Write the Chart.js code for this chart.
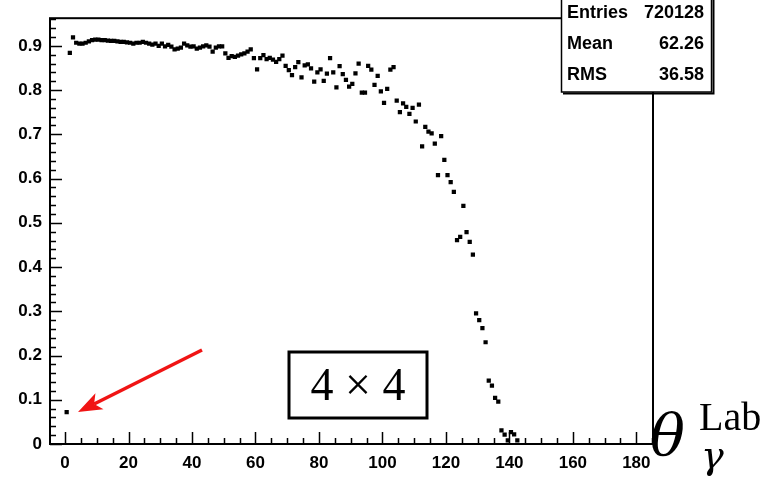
<!DOCTYPE html>
<html>
<head>
<meta charset="utf-8">
<script src="https://cdn.jsdelivr.net/npm/chart.js@4.4.1/dist/chart.umd.min.js"></script>
<style>
    html, body { margin: 0; padding: 0; background: #fff; }
</style>
</head>
<body>
<canvas id="efficacite-chart" width="775" height="482"></canvas>
<script>
"use strict";

// centres des bins en theta (degrés)
const thetaLab = [
    0.5, 1.5, 2.5, 3.5, 4.5, 5.5, 6.5, 7.5, 8.5, 9.5,
    10.5, 11.5, 12.5, 13.5, 14.5, 15.5, 16.5, 17.5, 18.5, 19.5,
    20.5, 21.5, 22.5, 23.5, 24.5, 25.5, 26.5, 27.5, 28.5, 29.5,
    30.5, 31.5, 32.5, 33.5, 34.5, 35.5, 36.5, 37.5, 38.5, 39.5,
    40.5, 41.5, 42.5, 43.5, 44.5, 45.5, 46.5, 47.5, 48.5, 49.5,
    50.5, 51.5, 52.5, 53.5, 54.5, 55.5, 56.5, 57.5, 58.5, 59.5,
    60.5, 61.5, 62.5, 63.5, 64.5, 65.5, 66.5, 67.5, 68.5, 69.5,
    70.5, 71.5, 72.5, 73.5, 74.5, 75.5, 76.5, 77.5, 78.5, 79.5,
    80.5, 81.5, 82.5, 83.5, 84.5, 85.5, 86.5, 87.5, 88.5, 89.5,
    90.5, 91.5, 92.5, 93.5, 94.5, 95.5, 96.5, 97.5, 98.5, 99.5,
    100.5, 101.5, 102.5, 103.5, 104.5, 105.5, 106.5, 107.5, 108.5, 109.5,
    110.5, 111.5, 112.5, 113.5, 114.5, 115.5, 116.5, 117.5, 118.5, 119.5,
    120.5, 121.5, 122.5, 123.5, 124.5, 125.5, 126.5, 127.5, 128.5, 129.5,
    130.5, 131.5, 132.5, 133.5, 134.5, 135.5, 136.5, 137.5, 138.5, 139.5,
    140.5, 141.5, 142.5
];

// efficacité
const efficacite = [
    0.072, 0.884, 0.919, 0.907, 0.905, 0.905, 0.907, 0.910, 0.913, 0.914,
    0.914, 0.913, 0.913, 0.912, 0.911, 0.911, 0.910, 0.909, 0.909, 0.908,
    0.907, 0.905, 0.907, 0.907, 0.909, 0.907, 0.905, 0.903, 0.905, 0.900,
    0.905, 0.899, 0.902, 0.898, 0.892, 0.894, 0.896, 0.905, 0.901, 0.898,
    0.899, 0.894, 0.896, 0.899, 0.901, 0.898, 0.887, 0.896, 0.899, 0.899,
    0.883, 0.873, 0.877, 0.875, 0.878, 0.881, 0.883, 0.887, 0.892, 0.872,
    0.847, 0.872, 0.879, 0.870, 0.873, 0.869, 0.864, 0.870, 0.878, 0.855,
    0.845, 0.834, 0.852, 0.863, 0.829, 0.856, 0.858, 0.849, 0.819, 0.840,
    0.847, 0.821, 0.837, 0.872, 0.840, 0.806, 0.854, 0.836, 0.823, 0.808,
    0.814, 0.838, 0.860, 0.794, 0.794, 0.855, 0.846, 0.812, 0.832, 0.797,
    0.771, 0.803, 0.846, 0.852, 0.776, 0.750, 0.770, 0.762, 0.746, 0.760,
    0.729, 0.767, 0.673, 0.717, 0.706, 0.702, 0.679, 0.608, 0.696, 0.642,
    0.608, 0.592, 0.570, 0.461, 0.468, 0.538, 0.479, 0.457, 0.428, 0.295,
    0.280, 0.262, 0.230, 0.143, 0.132, 0.104, 0.096, 0.031, 0.021, 0.008,
    0.027, 0.022, 0.008
];

const xTicks = [0, 20, 40, 60, 80, 100, 120, 140, 160, 180];
const yTicks = [0, 0.1, 0.2, 0.3, 0.4, 0.5, 0.6, 0.7, 0.8, 0.9];

const statsLabels = ['Entries', 'Mean', 'RMS'];
const statsValues = ['720128', '62.26', '36.58'];

const boxText = '4 \u00d7 4';

/**
 * Décor façon ROOT : cadre, graduations internes, boîte de stats,
 * encadré "4 x 4", flèche rouge et titre de l'axe x
 */
const decorRoot = {
    id: 'decorRoot',
    afterDatasetsDraw(chart) {
        const {ctx, chartArea: {left, right, top, bottom}, scales: {x, y}} = chart;
        ctx.save();

        // cadre
        ctx.strokeStyle = '#000';
        ctx.lineWidth = 2;
        ctx.strokeRect(left, top, right - left, bottom - top);

        // graduations x (majeures tous les 20, mineures tous les 5)
        ctx.lineWidth = 1.5;
        ctx.beginPath();
        for (let v = 0; v <= 185; v += 5) {
            const px = Math.round(x.getPixelForValue(v)) + 0.5;
            const len = v % 20 === 0 ? 12 : 6;
            ctx.moveTo(px, bottom);
            ctx.lineTo(px, bottom - len);
        }
        // graduations y (majeures tous les 0.1, mineures tous les 0.02)
        for (let i = 0; i <= 48; i++) {
            const py = Math.round(y.getPixelForValue(i * 0.02)) + 0.5;
            const len = i % 5 === 0 ? 12 : 6;
            ctx.moveTo(left, py);
            ctx.lineTo(left + len, py);
        }
        ctx.stroke();

        // encadré 4 x 4
        ctx.lineWidth = 3;
        ctx.strokeRect(289, 352, 138, 66);
        ctx.fillStyle = '#000';
        ctx.font = '46px "Liberation Serif"';
        ctx.textAlign = 'center';
        ctx.textBaseline = 'alphabetic';
        ctx.fillText(boxText, 358, 400);

        // flèche rouge vers le premier bin
        const x0 = 202, y0 = 350, x1 = 78, y1 = 412;
        const ang = Math.atan2(y1 - y0, x1 - x0);
        const headLen = 24, headW = 9;
        const bx = x1 - headLen * Math.cos(ang), by = y1 - headLen * Math.sin(ang);
        ctx.strokeStyle = '#f01414';
        ctx.fillStyle = '#f01414';
        ctx.lineWidth = 3.5;
        ctx.beginPath();
        ctx.moveTo(x0, y0);
        ctx.lineTo(bx + 6 * Math.cos(ang), by + 6 * Math.sin(ang));
        ctx.stroke();
        ctx.beginPath();
        ctx.moveTo(x1, y1);
        ctx.lineTo(bx + headW * Math.sin(ang), by - headW * Math.cos(ang));
        ctx.lineTo(bx + 6 * Math.cos(ang), by + 6 * Math.sin(ang));
        ctx.lineTo(bx - headW * Math.sin(ang), by + headW * Math.cos(ang));
        ctx.closePath();
        ctx.fill();

        // titre de l'axe x : theta_gamma^Lab
        ctx.fillStyle = '#000';
        ctx.textAlign = 'left';
        ctx.font = 'italic 58px "DejaVu Serif"';
        ctx.fillText('\u03b8', 650, 455);
        ctx.font = '40px "Liberation Serif"';
        ctx.fillText('Lab', 699, 430);
        ctx.font = 'italic 38px "DejaVu Serif"';
        ctx.fillText('\u03b3', 701, 468);

        // boîte de statistiques
        ctx.fillStyle = '#fff';
        ctx.fillRect(561, -4, 151, 96);
        ctx.strokeStyle = '#000';
        ctx.lineWidth = 1.5;
        ctx.strokeRect(561.5, -4, 150, 96);
        ctx.lineWidth = 2;
        ctx.beginPath();
        ctx.moveTo(713.5, -4);
        ctx.lineTo(713.5, 93.5);
        ctx.lineTo(563, 93.5);
        ctx.stroke();
        ctx.fillStyle = '#000';
        ctx.font = 'bold 18px "Liberation Sans"';
        for (let i = 0; i < statsLabels.length; i++) {
            const base = 17.5 + i * 31;
            ctx.textAlign = 'left';
            ctx.fillText(statsLabels[i], 567, base);
            ctx.textAlign = 'right';
            ctx.fillText(statsValues[i], 704, base);
        }

        ctx.restore();
    }
};

const efficaciteChart = (function () {
    const ctx = document.getElementById('efficacite-chart');
    let chart;

    function init() {
        const points = thetaLab.map((t, i) => ({x: t, y: efficacite[i]}));

        const config = {
            type: 'scatter',
            data: {
                datasets: [{
                    data: points,
                    pointStyle: 'rect',
                    pointRadius: 3,
                    pointBorderWidth: 0,
                    backgroundColor: '#000',
                    borderColor: '#000'
                }]
            },
            options: {
                responsive: false,
                animation: false,
                devicePixelRatio: 1,
                layout: {
                    padding: {top: 13, right: 122, left: 0, bottom: 0}
                },
                plugins: {
                    legend: {display: false},
                    tooltip: {enabled: false}
                },
                scales: {
                    x: {
                        type: 'linear',
                        min: -4.75,
                        max: 185.25,
                        afterFit: s => { s.height = 38; },
                        afterBuildTicks: s => { s.ticks = xTicks.map(v => ({value: v})); },
                        grid: {display: false, drawTicks: false},
                        border: {display: false},
                        ticks: {
                            padding: 9,
                            color: '#000',
                            font: {family: '"Liberation Sans"', size: 17, weight: 'bold'},
                            maxRotation: 0,
                            autoSkip: false,
                            callback: v => String(v)
                        }
                    },
                    y: {
                        type: 'linear',
                        min: 0,
                        max: 0.9625,
                        afterFit: s => { s.width = 50; },
                        afterBuildTicks: s => { s.ticks = yTicks.map(v => ({value: v})); },
                        grid: {display: false, drawTicks: false},
                        border: {display: false},
                        ticks: {
                            padding: 8,
                            color: '#000',
                            font: {family: '"Liberation Sans"', size: 17, weight: 'bold'},
                            autoSkip: false,
                            callback: v => v === 0 ? '0' : v.toFixed(1)
                        }
                    }
                }
            },
            plugins: [decorRoot]
        };

        chart = new Chart(ctx, config);
    }

    return {
        init
    };
})();

efficaciteChart.init();
</script>
</body>
</html>
